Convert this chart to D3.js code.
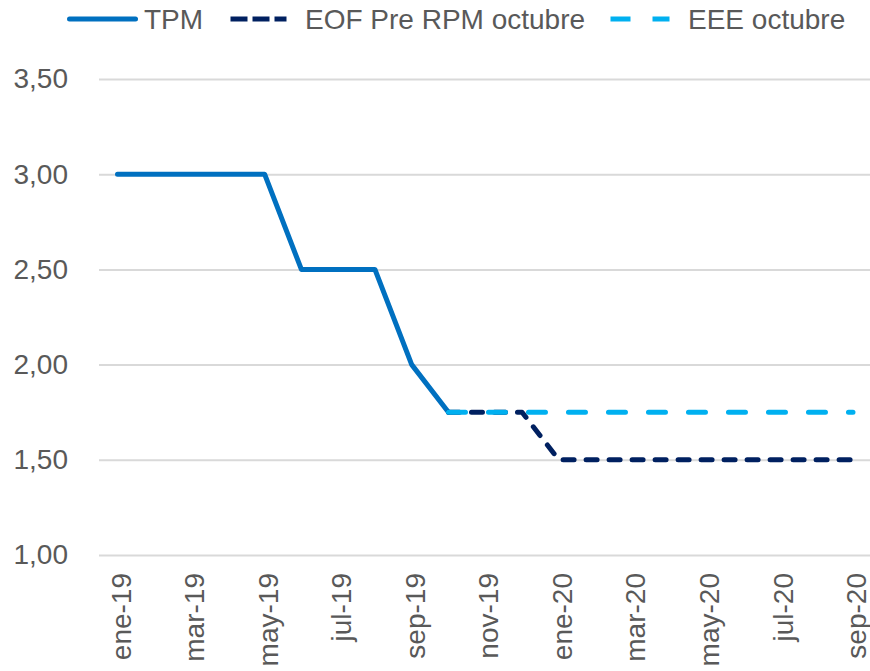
<!DOCTYPE html>
<html lang="es">
<head>
<meta charset="utf-8">
<title>TPM</title>
<script src="https://cdn.jsdelivr.net/npm/d3@7"></script>
<style>
  body { margin: 0; background: #fff; }
  svg text { font-family: "Liberation Sans", Arial, sans-serif; fill: #595959; }
</style>
</head>
<body>
<script>
// meses del eje x
var meses = ["ene-19","feb-19","mar-19","abr-19","may-19","jun-19","jul-19","ago-19","sep-19","oct-19","nov-19","dic-19",
             "ene-20","feb-20","mar-20","abr-20","may-20","jun-20","jul-20","ago-20","sep-20"];
var tpm = [3.00, 3.00, 3.00, 3.00, 3.00, 2.50, 2.50, 2.50, 2.00, 1.75,
           null, null, null, null, null, null, null, null, null, null, null];
var eof = [null, null, null, null, null, null, null, null, null, 1.75,
           1.75, 1.75, 1.50, 1.50, 1.50, 1.50, 1.50, 1.50, 1.50, 1.50, 1.50];
var eee = [null, null, null, null, null, null, null, null, null, 1.75,
           1.75, 1.75, 1.75, 1.75, 1.75, 1.75, 1.75, 1.75, 1.75, 1.75, 1.75];
var yTicks = [1.00, 1.50, 2.00, 2.50, 3.00, 3.50];

var w = 870, h = 671;

var svg = d3.select("body").append("svg")
    .attr("width", w)
    .attr("height", h);

var x = d3.scalePoint().domain(meses).range([117.5, 853]);
var y = d3.scaleLinear().domain([1, 3.5]).range([555, 79]);

var es = d3.formatLocale({decimal: ",", thousands: ".", grouping: [3], currency: ["", "€"]});
var fmt = es.format(".2f");

// grid + eje y
var yAxis = d3.axisLeft(y)
    .tickValues(yTicks)
    .tickSize(-(w - 99))
    .tickPadding(31)
    .tickFormat(fmt);

svg.append("g")
    .attr("class", "axis axis--y")
    .attr("transform", "translate(99,0)")
    .call(yAxis)
    .call(function(g) {
        g.select(".domain").remove();
        g.selectAll(".tick line").attr("stroke", "#d9d9d9").attr("stroke-width", 2);
        g.selectAll(".tick text").attr("font-size", "28px").attr("fill", "#595959");
    });

// eje x (etiquetas cada 2 meses)
var xAxis = d3.axisBottom(x)
    .tickValues(meses.filter(function(d, i) { return i % 2 === 0; }))
    .tickSize(0);

svg.append("g")
    .attr("class", "axis axis--x")
    .attr("transform", "translate(0,555)")
    .call(xAxis)
    .call(function(g) {
        g.select(".domain").remove();
        g.selectAll(".tick text")
            .attr("font-family", "'Open Sans', sans-serif")
            .attr("font-size", "28px")
            .attr("fill", "#595959")
            .attr("transform", "rotate(-90)")
            .attr("text-anchor", "end")
            .attr("x", -18)
            .attr("y", 0)
            .attr("dy", "0.45em");
    });

var line = d3.line()
    .defined(function(d) { return d != null; })
    .x(function(d, i) { return x(meses[i]); })
    .y(function(d) { return y(d); });

var series = [
    {name: "TPM", values: tpm, color: "#0070C0", dash: null},
    {name: "EOF Pre RPM octubre", values: eof, color: "#002060", dash: "11 12"},
    {name: "EEE octubre", values: eee, color: "#00B0F0", dash: "17 23"}
];

series.forEach(function(s) {
    svg.append("path")
        .datum(s.values)
        .attr("fill", "none")
        .attr("stroke", s.color)
        .attr("stroke-width", 5)
        .attr("stroke-linecap", "round")
        .attr("stroke-linejoin", "round")
        .attr("stroke-dasharray", s.dash)
        .attr("d", line);
});

// leyenda
var legX = [[67, 138, 144], [228, 289, 305], [608, 672, 688]];
var legDash = [null, "17 5", "20 22"];
var leg = svg.append("g").attr("class", "legend");
series.forEach(function(s, i) {
    leg.append("line")
        .attr("x1", legX[i][0] + 2.5).attr("x2", legX[i][1] - 2.5)
        .attr("y1", 19).attr("y2", 19)
        .attr("stroke", s.color)
        .attr("stroke-width", 5)
        .attr("stroke-linecap", i === 0 ? "round" : "butt")
        .attr("stroke-dasharray", legDash[i]);
    leg.append("text")
        .attr("x", legX[i][2])
        .attr("y", 29)
        .attr("font-size", "28px")
        .text(s.name);
});
</script>
</body>
</html>
